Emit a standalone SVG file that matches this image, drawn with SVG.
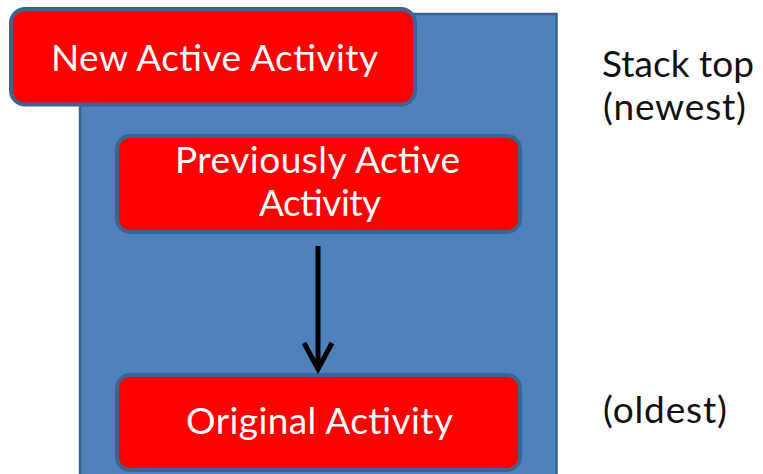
<svg xmlns="http://www.w3.org/2000/svg" width="763" height="474" viewBox="0 0 763 474">
  <defs>
    <style>
      .stack { fill: #4f81bd; stroke: #3a6190; stroke-width: 2.5; }
      .node rect { fill: #ff0000; stroke: #3d6490; stroke-width: 4; }
      .node text { fill: #ffffff; font-family: Lato, "Open Sans", "Liberation Sans", sans-serif; font-size: 37px; }
      .label { fill: #111111; font-family: Lato, "Open Sans", "Liberation Sans", sans-serif; font-size: 37px; }
      .conn { stroke: #000000; stroke-width: 5; fill: none; }
    </style>
    <marker id="head" markerUnits="userSpaceOnUse" viewBox="-32 -20 40 40" markerWidth="40" markerHeight="40" refX="0" refY="0" orient="auto">
      <path d="M-26,-14 L0,0 L-26,14" fill="none" stroke="#000000" stroke-width="5" stroke-linejoin="miter"/>
    </marker>
  </defs>
  <rect width="763" height="474" fill="#ffffff"/>

  <g id="stack">
    <rect class="stack" x="80" y="14" width="476.5" height="475"/>
  </g>

  <g id="node-new" class="node">
    <rect x="11" y="9" width="404" height="95.5" rx="14"/>
    <text x="51" y="71" textLength="327">New Active Activity</text>
  </g>

  <g id="node-previous" class="node">
    <rect x="117" y="136" width="403" height="96" rx="13"/>
    <text x="175" y="173" textLength="285">Previously Active</text>
    <text x="259" y="216" textLength="122">Activity</text>
  </g>

  <g id="node-original" class="node">
    <rect x="117" y="375" width="403" height="95" rx="13"/>
    <text x="186" y="434" textLength="267">Original Activity</text>
  </g>

  <g id="connectors">
    <line class="conn" x1="318" y1="246" x2="318" y2="369" marker-end="url(#head)"/>
  </g>

  <g id="labels">
    <text class="label" x="602" y="77" textLength="152">Stack top</text>
    <text class="label" x="603" y="120" textLength="143">(newest)</text>
    <text class="label" x="603" y="423" textLength="124">(oldest)</text>
  </g>
</svg>
